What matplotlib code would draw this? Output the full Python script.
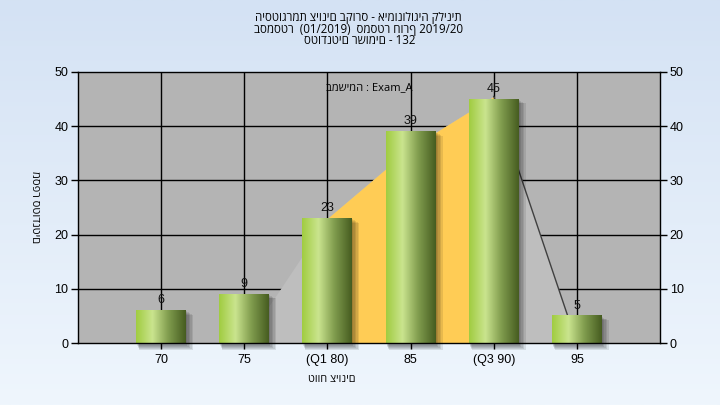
import numpy as np
import matplotlib
matplotlib.use('Agg')
import matplotlib.pyplot as plt
from matplotlib.patches import Rectangle
import matplotlib.transforms as mtransforms

plt.rcParams['font.family'] = ['Liberation Sans', 'DejaVu Sans']
HEB = ['Open Sans', 'Liberation Sans', 'DejaVu Sans']

# ---- data ----
title_lines = ["היסטוגרמת ציונים בקורס - אימונולוגיה קלינית",
               "בסמסטר  (01/2019)  סמסטר חורף 2019/20",
               "סטודנטים רשומים - 132"]
exam_label = "במשימה : Exam_A"
x_title = "טווח ציונים"
y_title = "מספר סטודנטים"
categories = ["70", "75", "(Q1 80)", "85", "(Q3 90)", "95"]
counts = [6, 9, 23, 39, 45, 5]
# background distribution area
area_vals = [0, 0, 23, 36, 45.5, 0]
q1_index, q3_index = 2, 4
y_ticks = [0, 10, 20, 30, 40, 50]

W, H = 720, 405
fig = plt.figure(figsize=(W / 100, H / 100), dpi=100)

# figure background gradient
bg = fig.add_axes([0, 0, 1, 1], zorder=-10)
top_c = np.array([212, 226, 244]) / 255
bot_c = np.array([239, 246, 253]) / 255
t = np.linspace(0, 1, 256)[:, None]
grad = top_c[None, None, :] * (1 - t[..., None]) + bot_c[None, None, :] * t[..., None]
bg.imshow(grad, aspect='auto', extent=[0, 1, 0, 1])
bg.axis('off')

ax = fig.add_axes([78 / W, 1 - 343 / H, (660 - 78) / W, (343 - 72) / H])
ax.set_facecolor('#b4b4b4')
x = np.arange(len(categories))
ax.set_xlim(-1, len(categories))
ax.set_ylim(0, 50)

# grid
for yv in y_ticks[1:-1]:
    ax.axhline(yv, color='black', lw=1, zorder=1)
for xv in x:
    ax.axvline(xv, color='black', lw=1, zorder=1)

# area
ax.fill_between(x, 0, area_vals, color='#bebebe', zorder=2, lw=0)
xs = x[q1_index:q3_index + 1]
ax.fill_between(xs, 0, np.array(area_vals)[q1_index:q3_index + 1], color='#ffcc55', zorder=2.1, lw=0)
ax.plot(x[q3_index:q3_index + 2], area_vals[q3_index:q3_index + 2], color='#404040', lw=1, zorder=2.2)

# bars
bw = 0.6
stops = [(0.0, (160, 204, 64)), (0.33, (202, 228, 142)), (0.65, (128, 156, 78)), (1.0, (70, 92, 32))]
gx = np.linspace(0, 1, 256)
cols = np.zeros((256, 3))
for ch in range(3):
    cols[:, ch] = np.interp(gx, [s[0] for s in stops], [s[1][ch] for s in stops]) / 255
bar_grad = cols[None, :, :]

for xi, c in zip(x, counts):
    # soft shadow
    for k in range(5):
        d = 5 - k  # px offset
        off = mtransforms.offset_copy(ax.transData, fig=fig, x=d, y=-d, units='dots')
        grow = (4 - k) * 0.006
        r = Rectangle((xi - bw / 2 - grow, -0.3), bw + 2 * grow, c + 0.3 + grow * 6,
                      transform=off, color='black', alpha=0.09, lw=0, zorder=2.5, clip_on=False)
        ax.add_patch(r)
    ax.imshow(bar_grad, extent=[xi - bw / 2, xi + bw / 2, 0, c], aspect='auto', zorder=3,
              interpolation='bilinear')
    ax.annotate(str(c), (xi, c), xytext=(0, 3), textcoords='offset points', ha='center', va='bottom',
                fontsize=9, color='#111111', zorder=5)

ax.set_aspect('auto')
ax.set_xlim(-1, len(categories))
ax.set_ylim(0, 50)

ax.set_xticks(x)
ax.set_xticklabels(categories, fontsize=9)
ax.set_yticks(y_ticks)
ax.tick_params(axis='y', left=True, right=True, labelleft=True, labelright=True, length=5, width=1,
               labelsize=9, colors='black', pad=2)
ax.tick_params(axis='x', length=4, width=1, labelsize=9, pad=4)
for s in ax.spines.values():
    s.set_color('black')
    s.set_linewidth(1)
    s.set_zorder(6)

ax.text(0.5, 0.943, exam_label, transform=ax.transAxes, ha='center', va='center', fontsize=8,
        zorder=6, family=HEB)

fig.text(358 / W, 1 - 17 / H, title_lines[0], ha='center', va='center', fontsize=8.3, family=HEB)
fig.text(358 / W, 1 - 29 / H, title_lines[1], ha='center', va='center', fontsize=8.3, family=HEB)
fig.text(360 / W, 1 - 41 / H, title_lines[2], ha='center', va='center', fontsize=8.3, family=HEB)
fig.text(332 / W, 1 - 380 / H, x_title, ha='center', va='center', fontsize=7.8, family=HEB)
fig.text(34 / W, 1 - 207 / H, y_title, ha='center', va='center', fontsize=8, rotation=270, family=HEB)

fig.savefig('out.png', dpi=100)
